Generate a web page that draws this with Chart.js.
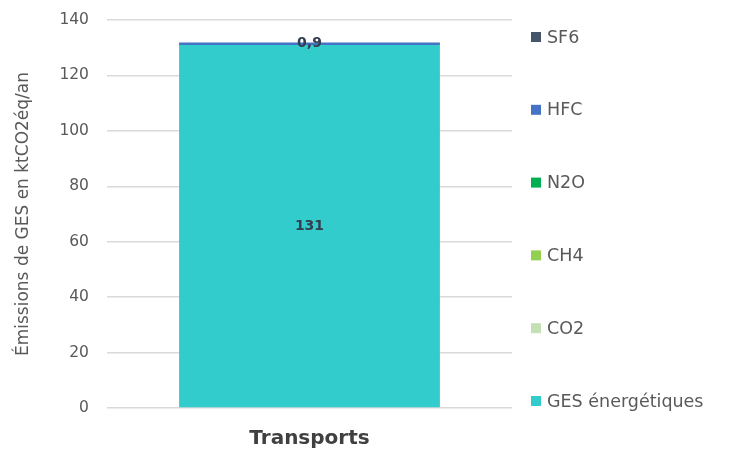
<!DOCTYPE html>
<html>
<head>
<meta charset="utf-8">
<script src="https://cdn.jsdelivr.net/npm/chart.js@4/dist/chart.umd.min.js"></script>
<style>
  html, body { margin: 0; padding: 0; background: #fff; }
  #wrap { width: 732px; height: 450px; position: relative; }
</style>
</head>
<body>
<div id="wrap"><canvas id="c" width="732" height="450"></canvas></div>
<script>
const categories = ["Transports"];
const seriesNames = ["GES énergétiques", "CO2", "CH4", "N2O", "HFC", "SF6"];
const gesEnergetiques = [131];
const co2 = [0];
const ch4 = [0];
const n2o = [0];
const hfc = [0.9];
const sf6 = [0];
const seriesColors = ["#33CCCC", "#C5E0B4", "#92D050", "#00B050", "#4472C4", "#44546A"];
const yTicks = [0, 20, 40, 60, 80, 100, 120, 140];
const yTitle = "Émissions de GES en ktCO2éq/an";

const FONT = "'DejaVu Sans', sans-serif";
const seriesValues = [gesEnergetiques, co2, ch4, n2o, hfc, sf6];

const datasets = seriesNames.map((name, i) => ({
  label: name,
  data: seriesValues[i],
  backgroundColor: seriesColors[i],
  borderWidth: 0,
  barPercentage: 0.644,
  categoryPercentage: 1.0
}));

const valueLabels = {
  id: 'valueLabels',
  afterDatasetsDraw(chart) {
    const ctx = chart.ctx;
    ctx.save();
    ctx.font = "bold 14px " + FONT;
    ctx.fillStyle = "#333F4F";
    ctx.textAlign = "center";
    ctx.textBaseline = "middle";
    chart.data.datasets.forEach((ds, di) => {
      const meta = chart.getDatasetMeta(di);
      meta.data.forEach((el, i) => {
        const v = ds.data[i];
        if (!v) return;
        const p = el.getProps(['x', 'y', 'base'], true);
        const y = (p.y + p.base) / 2;
        ctx.fillText(v.toLocaleString('fr-FR'), p.x, y);
      });
    });
    ctx.restore();
  }
};

const sideLegend = {
  id: 'sideLegend',
  afterDraw(chart) {
    const ctx = chart.ctx;
    ctx.save();
    ctx.font = "17.5px " + FONT;
    ctx.textBaseline = "middle";
    ctx.textAlign = "left";
    const ds = chart.data.datasets.slice().reverse();
    const x0 = 531, y0 = 37, step = 72.8;
    ds.forEach((d, i) => {
      const y = y0 + i * step;
      ctx.fillStyle = d.backgroundColor;
      ctx.fillRect(x0, y - 5, 10, 10);
      ctx.fillStyle = "#595959";
      ctx.fillText(d.label, x0 + 16, y + 1);
    });
    ctx.restore();
  }
};

new Chart(document.getElementById('c'), {
  type: 'bar',
  data: { labels: categories, datasets },
  options: {
    responsive: false,
    animation: false,
    layout: { padding: { top: 20, right: 220, bottom: -20, left: 13 } },
    plugins: {
      legend: { display: false },
      tooltip: { enabled: false }
    },
    scales: {
      x: {
        stacked: true,
        grid: { display: false, drawTicks: false },
        border: { display: false },
        ticks: {
          color: "#404040",
          font: { family: FONT, size: 20, weight: 'bold' },
          padding: 19
        }
      },
      y: {
        stacked: true,
        min: 0,
        max: 140,
        afterBuildTicks(scale) { scale.ticks = yTicks.map(v => ({ value: v })); },
        afterFit(scale) { scale.paddingTop = 0; },
        grid: { color: "#D9D9D9", lineWidth: 1.5, drawTicks: false },
        border: { display: false },
        ticks: {
          color: "#595959",
          font: { family: FONT, size: 15.5 },
          padding: 18
        },
        title: {
          display: true,
          text: yTitle,
          color: "#595959",
          font: { family: FONT, size: 17 },
          padding: { top: 0, bottom: 8 }
        }
      }
    }
  },
  plugins: [valueLabels, sideLegend]
});
</script>
</body>
</html>
